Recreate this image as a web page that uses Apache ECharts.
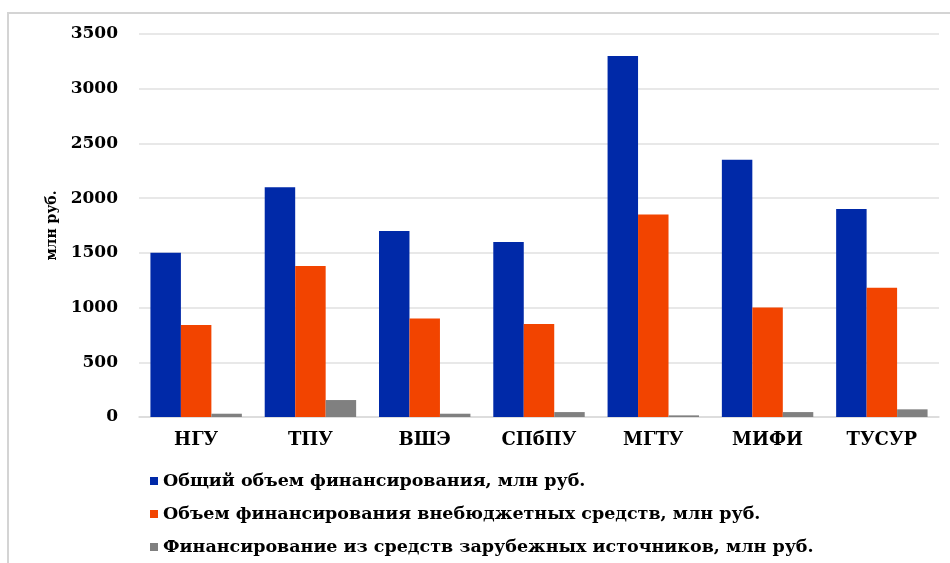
<!DOCTYPE html>
<html>
<head>
<meta charset="utf-8">
<script src="https://cdn.jsdelivr.net/npm/echarts@6/dist/echarts.min.js"></script>
<style>html,body{margin:0;padding:0;background:#fff}#c{width:950px;height:563px}</style>
</head>
<body>
<div id="c"></div>
<script>
const categories = ['НГУ', 'ТПУ', 'ВШЭ', 'СПбПУ', 'МГТУ', 'МИФИ', 'ТУСУР'];
const totalFunding = [1500, 2100, 1700, 1600, 3300, 2350, 1900];
const extraBudget = [840, 1380, 900, 850, 1850, 1000, 1180];
const foreignFunding = [30, 155, 30, 45, 15, 45, 70];
const seriesNames = [
  'Общий объем финансирования, млн руб.',
  'Объем финансирования внебюджетных средств, млн руб.',
  'Финансирование из средств зарубежных источников, млн руб.'
];
const yTicks = { min: 0, max: 3500, interval: 500 };
const yName = 'млн руб.';

const font = '"DejaVu Serif", "Liberation Serif", serif';
const chart = echarts.init(document.getElementById('c'), null, { renderer: 'canvas' });
chart.setOption({
  animation: false,
  backgroundColor: '#fff',
  graphic: [{
    type: 'rect', shape: { x: 8, y: 13, width: 1000, height: 700 },
    style: { fill: 'none', stroke: '#d4d4d4', lineWidth: 2 }, silent: true, z: -1
  }],
  grid: { left: 139, right: 11, top: 34, bottom: 146, containLabel: false },
  legend: {
    orient: 'vertical', left: 150, top: 472, height: 200, itemGap: 15, padding: 0,
    itemWidth: 8, itemHeight: 8, icon: 'rect',
    textStyle: { fontFamily: font, fontWeight: 'bold', fontSize: 17.5, color: '#000' },
    data: seriesNames
  },
  xAxis: {
    type: 'category', data: categories,
    axisLine: { lineStyle: { color: '#d9d9d9', width: 1.5 } },
    axisTick: { show: false },
    axisLabel: { fontFamily: font, fontWeight: 'bold', fontSize: 18, color: '#000', margin: 14 }
  },
  yAxis: {
    type: 'value', min: yTicks.min, max: yTicks.max, interval: yTicks.interval,
    name: yName, nameLocation: 'middle', nameRotate: 90, nameGap: 80,
    nameTextStyle: { fontFamily: font, fontWeight: 'bold', fontSize: 14, color: '#000' },
    axisLine: { show: false }, axisTick: { show: false },
    splitLine: { lineStyle: { color: '#e0e0e0', width: 1.5 } },
    axisLabel: { fontFamily: font, fontWeight: 'bold', fontSize: 17, color: '#000', margin: 21,
      formatter: function (v) { return String(v); } }
  },
  series: [
    { name: seriesNames[0], type: 'bar', data: totalFunding, itemStyle: { color: '#0029a8' }, barGap: '0%', barCategoryGap: '20%' },
    { name: seriesNames[1], type: 'bar', data: extraBudget, itemStyle: { color: '#f24400' }, barGap: '0%', barCategoryGap: '20%' },
    { name: seriesNames[2], type: 'bar', data: foreignFunding, itemStyle: { color: '#808080' }, barGap: '0%', barCategoryGap: '20%' }
  ]
});
</script>
</body>
</html>
